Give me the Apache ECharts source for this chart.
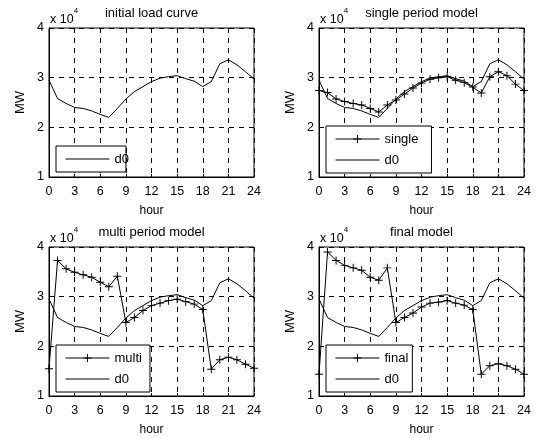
<!DOCTYPE html>
<html>
<head>
<meta charset="utf-8">
<script src="https://cdn.jsdelivr.net/npm/echarts@6/dist/echarts.min.js"></script>
<style>
  html, body { margin: 0; padding: 0; background: #fff; }
  #main { width: 540px; height: 438px; }
</style>
</head>
<body>
<div id="main"></div>
<script>
// hourly load, MW
const hours = [0, 1, 2, 3, 4, 5, 6, 7, 8, 9, 10, 11, 12, 13, 14, 15, 16, 17, 18, 19, 20, 21, 22, 23, 24];
const d0 = [29500, 25800, 24800, 24000, 23800, 23300, 22600, 22000, 23800, 25700, 27200, 28200, 29200, 29900, 30200, 30400, 29800, 29300, 28200, 29200, 32800, 33600, 32600, 31200, 29700];
const single = [27400, 27000, 25700, 25200, 24800, 24500, 23800, 23100, 24500, 25500, 26700, 27900, 28900, 29700, 30000, 30200, 29500, 29000, 28100, 26900, 30200, 31200, 30400, 28700, 27400];
const multi = [15500, 37300, 35600, 34900, 34400, 33900, 32900, 32000, 34100, 24800, 25800, 27200, 28200, 28700, 29200, 29500, 29000, 28500, 27400, 15400, 17300, 17800, 17300, 16400, 15600];
const final = [14400, 39000, 37300, 36300, 35800, 35300, 33900, 33300, 35800, 24800, 25800, 26700, 27900, 28700, 28900, 29200, 28700, 28300, 27400, 14400, 16100, 16500, 16100, 15400, 14400];

const panels = [
  { title: 'initial load curve', name: null, data: null, left: 49, top: 28, padR: -3 },
  { title: 'single period model', name: 'single', data: single, left: 319, top: 28, padR: 13 },
  { title: 'multi period model', name: 'multi', data: multi, left: 49, top: 247, padR: 8 },
  { title: 'final model', name: 'final', data: final, left: 319, top: 247, padR: 4 }
];

const W = 205, H = 149;
const font = 'Liberation Sans, Arial, Helvetica, sans-serif';
const plus = 'path://M-0.12,-1L0.12,-1L0.12,-0.12L1,-0.12L1,0.12L0.12,0.12L0.12,1L-0.12,1L-0.12,0.12L-1,0.12L-1,-0.12L-0.12,-0.12Z';

const pairs = (arr) => arr.map((v, i) => [hours[i], v]);

const grid = [], xAxis = [], yAxis = [], series = [], legend = [], graphic = [];

panels.forEach((p, i) => {
  grid.push({
    left: p.left, top: p.top, width: W, height: H,
    show: true, borderColor: '#000', borderWidth: 1, backgroundColor: '#fff'
  });
  xAxis.push({
    type: 'value', gridIndex: i, min: 0, max: 24, interval: 3,
    axisLine: { show: true, onZero: false, lineStyle: { color: '#000', width: 1 } },
    axisTick: { show: true, inside: true, length: 3, lineStyle: { color: '#000' } },
    axisLabel: { color: '#000', fontSize: 12.5, fontFamily: font, margin: 8 },
    splitLine: { show: true, lineStyle: { color: '#000', type: [5, 5], width: 1 } },
    name: 'hour', nameLocation: 'middle', nameGap: 28,
    nameTextStyle: { color: '#000', fontSize: 12, fontFamily: font }
  });
  yAxis.push({
    type: 'value', gridIndex: i, min: 10000, max: 40000, interval: 10000,
    axisLine: { show: true, onZero: false, lineStyle: { color: '#000', width: 1 } },
    axisTick: { show: true, inside: true, length: 3, lineStyle: { color: '#000' } },
    axisLabel: { color: '#000', fontSize: 12.5, fontFamily: font, margin: 5,
      formatter: (v) => String(v / 10000) },
    splitLine: { show: true, lineStyle: { color: '#000', type: [5, 5], width: 1 } },
    name: 'MW', nameLocation: 'middle', nameGap: 22, nameRotate: 90,
    nameTextStyle: { color: '#000', fontSize: 13, fontFamily: font }
  });

  const names = [];
  if (p.data) {
    names.push({ name: p.name });
    series.push({
      name: p.name, type: 'line', xAxisIndex: i, yAxisIndex: i,
      data: pairs(p.data), symbol: plus, symbolSize: 8, showAllSymbol: true,
      clip: false, animation: false,
      lineStyle: { color: '#000', width: 1 }, itemStyle: { color: '#000' }
    });
  }
  names.push({ name: 'd0', itemStyle: { opacity: 0 } });
  series.push({
    name: 'd0', type: 'line', xAxisIndex: i, yAxisIndex: i,
    data: pairs(d0), symbol: 'none', animation: false,
    lineStyle: { color: '#000', width: 1 }, itemStyle: { color: '#000' }
  });

  const boxH = p.data ? 46 : 26;
  legend.push({
    data: names, orient: 'vertical',
    left: p.left + 7, top: p.top + H - 5 - boxH,
    backgroundColor: '#fff', borderColor: '#000', borderWidth: 1,
    padding: [6, p.padR, 6, 9], itemGap: 7, itemWidth: 44, itemHeight: 10,
    selectedMode: false,
    lineStyle: { width: 1 },
    textStyle: { color: '#000', fontSize: 13, fontFamily: font, lineHeight: 14 }
  });

  graphic.push({
    type: 'text', x: p.left + W / 2, y: p.top - 15,
    style: { text: p.title, fill: '#000', font: '13px ' + font,
      textAlign: 'center', textVerticalAlign: 'middle' }
  });
  graphic.push({
    type: 'text', x: p.left + 1, y: p.top - 21,
    style: {
      text: '{a|x 10}{s|4}', fill: '#000',
      rich: {
        a: { fontSize: 12.5, fontFamily: font, color: '#000', padding: [6, 0, 0, 0] },
        s: { fontSize: 8, fontFamily: font, color: '#000', verticalAlign: 'top' }
      }
    }
  });
});

const chart = echarts.init(document.getElementById('main'));
chart.setOption({
  animation: false,
  backgroundColor: '#fff',
  grid, xAxis, yAxis, series, legend, graphic
});
</script>
</body>
</html>
